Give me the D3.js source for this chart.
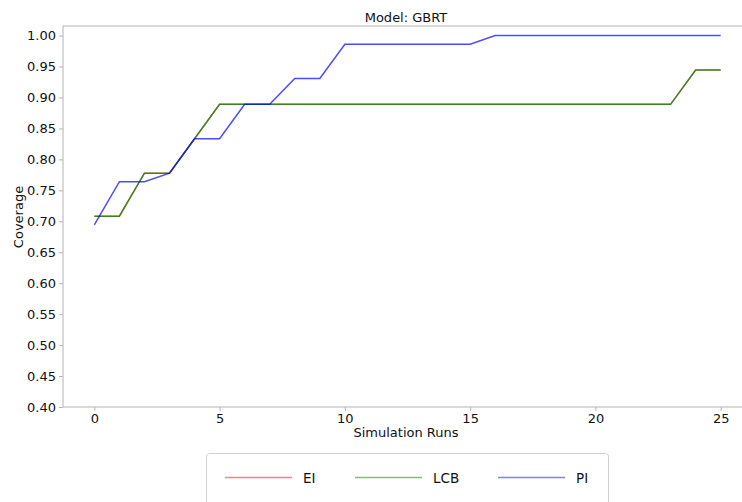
<!DOCTYPE html>
<html>
<head>
<meta charset="utf-8">
<script src="https://cdn.jsdelivr.net/npm/d3@7"></script>
<style>
  html, body { margin: 0; padding: 0; background: #fff; overflow: hidden; }
  svg { display: block; font-family: "DejaVu Sans", sans-serif; }
</style>
</head>
<body>
<svg id="chart" width="742" height="502"></svg>
<script>
// Coverage per simulation run for each acquisition function
const runs = [0,1,2,3,4,5,6,7,8,9,10,11,12,13,14,15,16,17,18,19,20,21,22,23,24,25];
const eiCoverage = [0.7083,0.7083,0.7778,0.7778,0.8333,0.8889,0.8889,0.8889,0.8889,0.8889,0.8889,0.8889,0.8889,0.8889,0.8889,0.8889,0.8889,0.8889,0.8889,0.8889,0.8889,0.8889,0.8889,0.8889,0.9444,0.9444];
const lcbCoverage = [0.7083,0.7083,0.7778,0.7778,0.8333,0.8889,0.8889,0.8889,0.8889,0.8889,0.8889,0.8889,0.8889,0.8889,0.8889,0.8889,0.8889,0.8889,0.8889,0.8889,0.8889,0.8889,0.8889,0.8889,0.9444,0.9444];
const piCoverage = [0.6944,0.7639,0.7639,0.7778,0.8333,0.8333,0.8889,0.8889,0.9306,0.9306,0.9861,0.9861,0.9861,0.9861,0.9861,0.9861,1.0,1.0,1.0,1.0,1.0,1.0,1.0,1.0,1.0,1.0];
const seriesNames = ["EI", "LCB", "PI"];
const seriesColors = ["#ff0000", "#008000", "#0000ff"];
const seriesOpacity = [0.5, 0.75, 0.7];
const xTicks = [0, 5, 10, 15, 20, 25];
const yTicks = [0.40,0.45,0.50,0.55,0.60,0.65,0.70,0.75,0.80,0.85,0.90,0.95,1.00];

const series = [eiCoverage, lcbCoverage, piCoverage];

const svg = d3.select("#chart");
const plotLeft = 63, plotRight = 752, plotTop = 26, plotBottom = 407;

const x = d3.scaleLinear().domain([-1.25, 26.25]).range([plotLeft, plotRight]);
const y = d3.scaleLinear().domain([0.4, 1.0155]).range([plotBottom, plotTop]);

const spine = "#b4b4b4";
const textColor = "#111";

// Axes
const xAxis = d3.axisBottom(x).tickValues(xTicks).tickFormat(d3.format("d")).tickSize(4).tickPadding(3);
const yAxis = d3.axisLeft(y).tickValues(yTicks).tickFormat(d3.format(".2f")).tickSize(4).tickPadding(3);

const gx = svg.append("g").attr("transform", `translate(0,${plotBottom})`).call(xAxis);
const gy = svg.append("g").attr("transform", `translate(${plotLeft},0)`).call(yAxis);
[gx, gy].forEach(g => {
  g.select(".domain").remove();
  g.selectAll(".tick line").attr("stroke", spine);
  g.selectAll(".tick text").attr("fill", textColor).style("font-size", "13px").style("font-family", "DejaVu Sans, sans-serif");
});

// Spines
svg.append("rect")
  .attr("x", plotLeft).attr("y", plotTop)
  .attr("width", plotRight - plotLeft).attr("height", plotBottom - plotTop)
  .attr("fill", "none").attr("stroke", spine).attr("stroke-width", 1);

// Lines
const line = d3.line().x((d, i) => x(runs[i])).y(d => y(d));
series.forEach((vals, k) => {
  svg.append("path")
    .datum(vals)
    .attr("d", line)
    .attr("fill", "none")
    .attr("stroke", seriesColors[k])
    .attr("stroke-opacity", seriesOpacity[k])
    .attr("stroke-width", 1.5);
});

// Title and axis labels
svg.append("text").attr("x", 406).attr("y", 22).attr("text-anchor", "middle")
  .attr("fill", textColor).style("font-size", "13px").text("Model: GBRT");
svg.append("text").attr("x", 406).attr("y", 437).attr("text-anchor", "middle")
  .attr("fill", textColor).style("font-size", "13px").text("Simulation Runs");
svg.append("text").attr("transform", "translate(23,217) rotate(-90)").attr("text-anchor", "middle")
  .attr("fill", textColor).style("font-size", "13px").text("Coverage");

// Legend
const lg = svg.append("g");
lg.append("rect").attr("x", 206.5).attr("y", 453.5).attr("width", 402).attr("height", 70)
  .attr("rx", 3).attr("fill", "#fff").attr("stroke", "#d0d0d0");
const entryX = [225, 355, 498];
seriesNames.forEach((name, k) => {
  lg.append("line").attr("x1", entryX[k]).attr("x2", entryX[k] + 67)
    .attr("y1", 477.5).attr("y2", 477.5)
    .attr("stroke", seriesColors[k]).attr("stroke-opacity", 0.5).attr("stroke-width", 1.5);
  lg.append("text").attr("x", entryX[k] + 78).attr("y", 482.5)
    .attr("fill", textColor).style("font-size", "13.5px").text(name);
});
</script>
</body>
</html>
